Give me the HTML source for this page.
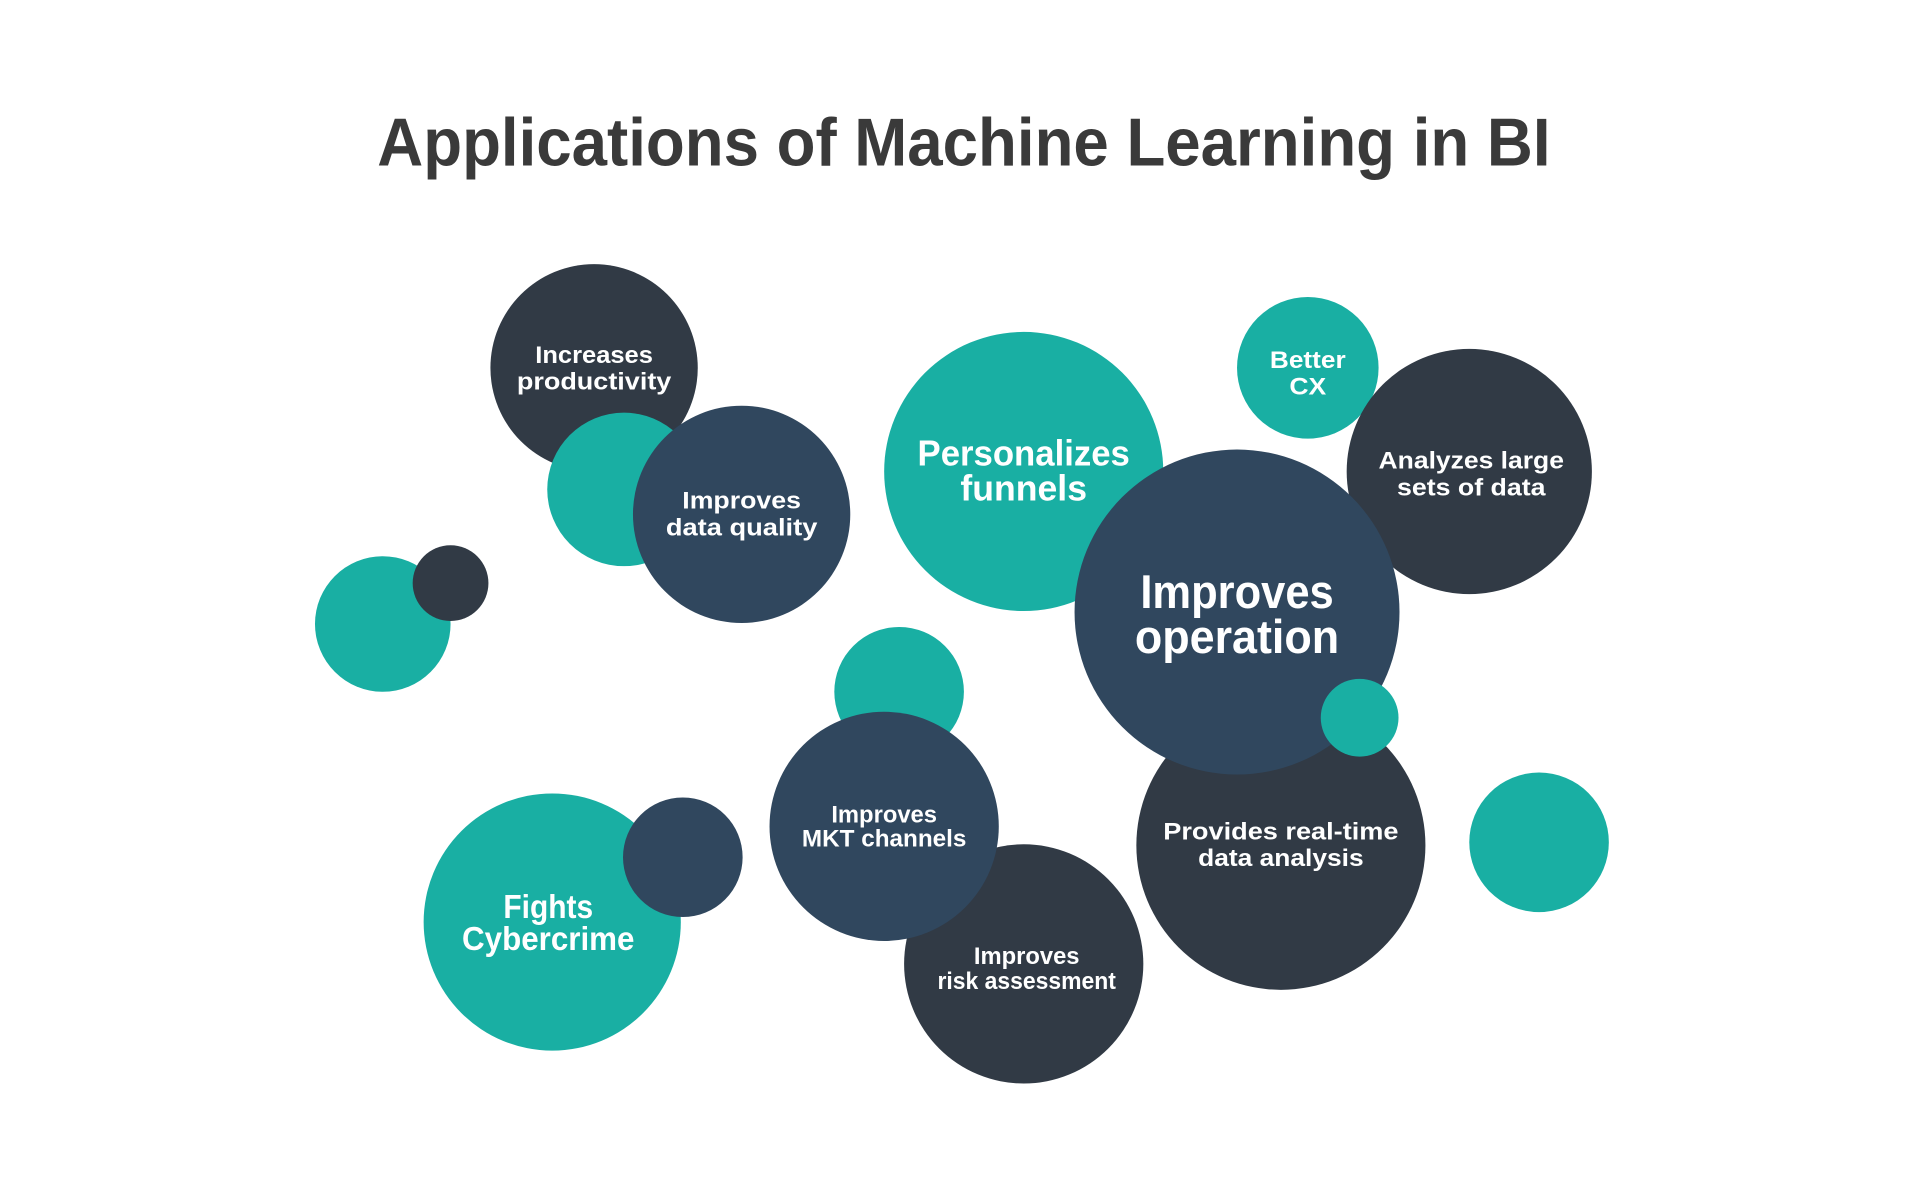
<!DOCTYPE html>
<html><head><meta charset="utf-8"><style>
html,body{margin:0;padding:0;background:#fff;}
svg{display:block;}
text{font-family:"Liberation Sans",sans-serif;font-weight:bold;fill:#fff;text-anchor:middle;}
</style></head><body>
<svg width="1920" height="1197" viewBox="0 0 1920 1197" xmlns="http://www.w3.org/2000/svg">
<rect width="1920" height="1197" fill="#fff"/>
<g transform="scale(0.9968)">
<text x="967" y="166" font-size="68" style="fill:#3a3a3a" textLength="1177" lengthAdjust="spacingAndGlyphs">Applications of Machine Learning in BI</text>

<circle cx="596" cy="369" r="104" fill="#313a45"/>
<circle cx="626" cy="491" r="77" fill="#19afa3"/>
<circle cx="744" cy="516" r="109" fill="#30475e"/>
<circle cx="384" cy="626" r="68" fill="#19afa3"/>
<circle cx="452" cy="585" r="38" fill="#313a45"/>
<circle cx="1027" cy="473" r="140" fill="#19afa3"/>
<circle cx="1312" cy="369" r="71" fill="#19afa3"/>
<circle cx="1474" cy="473" r="123" fill="#313a45"/>
<circle cx="1285" cy="848" r="145" fill="#313a45"/>
<circle cx="1241" cy="614" r="163" fill="#30475e"/>
<circle cx="1364" cy="720" r="39" fill="#19afa3"/>
<circle cx="1544" cy="845" r="70" fill="#19afa3"/>
<circle cx="902" cy="694" r="65" fill="#19afa3"/>
<circle cx="1027" cy="967" r="120" fill="#313a45"/>
<circle cx="887" cy="829" r="115" fill="#30475e"/>
<circle cx="554" cy="925" r="129" fill="#19afa3"/>
<circle cx="685" cy="860" r="60" fill="#30475e"/>

<g font-size="24">
<text x="596" y="364" textLength="118" lengthAdjust="spacingAndGlyphs">Increases</text>
<text x="596" y="391" textLength="155" lengthAdjust="spacingAndGlyphs">productivity</text>
<text x="744" y="510" textLength="119" lengthAdjust="spacingAndGlyphs">Improves</text>
<text x="744" y="537" textLength="152" lengthAdjust="spacingAndGlyphs">data quality</text>
<text x="1312" y="369" textLength="76" lengthAdjust="spacingAndGlyphs">Better</text>
<text x="1312" y="396" textLength="37" lengthAdjust="spacingAndGlyphs">CX</text>
<text x="1476" y="470" textLength="186" lengthAdjust="spacingAndGlyphs">Analyzes large</text>
<text x="1476" y="497" textLength="149" lengthAdjust="spacingAndGlyphs">sets of data</text>
<text x="1285" y="842" textLength="236" lengthAdjust="spacingAndGlyphs">Provides real-time</text>
<text x="1285" y="869" textLength="166" lengthAdjust="spacingAndGlyphs">data analysis</text>
<text x="887" y="825" textLength="106" lengthAdjust="spacingAndGlyphs">Improves</text>
<text x="887" y="849" textLength="165" lengthAdjust="spacingAndGlyphs">MKT channels</text>
<text x="1030" y="967" textLength="106" lengthAdjust="spacingAndGlyphs">Improves</text>
<text x="1030" y="992" textLength="179" lengthAdjust="spacingAndGlyphs">risk assessment</text>
</g>
<g font-size="36">
<text x="1027" y="467" textLength="213" lengthAdjust="spacingAndGlyphs">Personalizes</text>
<text x="1027" y="502" textLength="127" lengthAdjust="spacingAndGlyphs">funnels</text>
</g>
<g font-size="33">
<text x="550" y="921" textLength="90" lengthAdjust="spacingAndGlyphs">Fights</text>
<text x="550" y="953" textLength="173" lengthAdjust="spacingAndGlyphs">Cybercrime</text>
</g>
<g font-size="47">
<text x="1241" y="610" textLength="194" lengthAdjust="spacingAndGlyphs">Improves</text>
<text x="1241" y="655" textLength="205" lengthAdjust="spacingAndGlyphs">operation</text>
</g>
</g>
</svg>
</body></html>
